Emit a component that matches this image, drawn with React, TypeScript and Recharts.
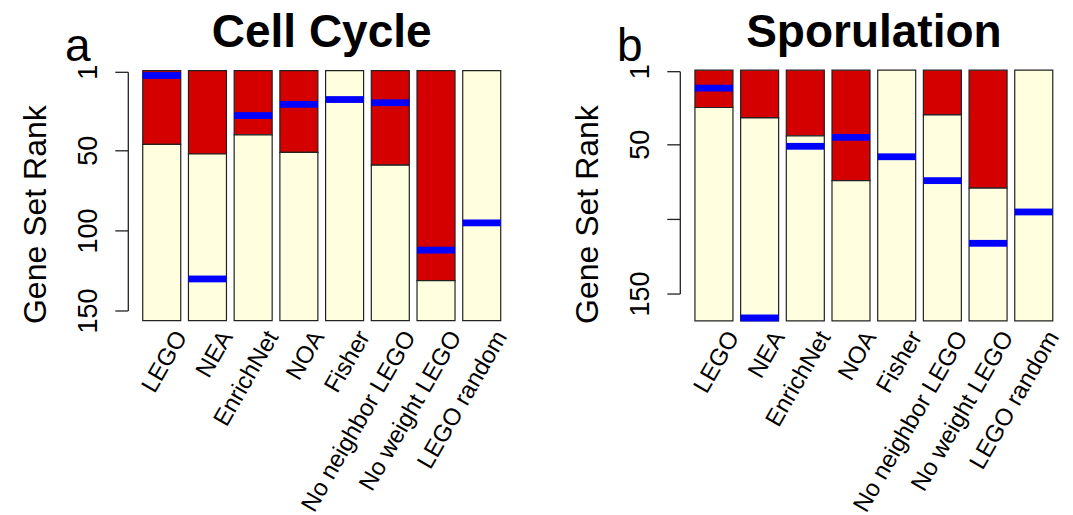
import React from "react";
import { ComposedChart, Bar, Line, XAxis, YAxis } from "recharts";

const methods = [
  "LEGO",
  "NEA",
  "EnrichNet",
  "NOA",
  "Fisher",
  "No neighbor LEGO",
  "No weight LEGO",
  "LEGO random",
];

// rank where the red block ends (0 = no red block)
const cellCycleRedEnd = [46, 52, 40, 51, 0, 59, 131, 0];
const cellCycleBlue = [3, 130, 28, 21, 18, 20, 112, 95];
const cellCycleTotal = 156;

const sporulationRedEnd = [25, 32, 44, 74, 0, 30, 79, 0];
const sporulationBlue = [12, 166, 51, 45, 58, 74, 116, 95];
const sporulationTotal = 168;

const rankTicks = [1, 50, 100, 150];
const cellCycleTickLabels = ["1", "50", "100", "150"];
const sporulationTickLabels = ["1", "50", "", "150"];

const FONT = "'Liberation Sans', Arial, Helvetica, sans-serif";
const RED = "#d40000";
const CREAM = "#ffffe0";
const BLUE = "#0000ff";
const EDGE = "#222";
const CHART_H = 515;
const BAR_W = 38;

type PanelProps = {
  left: number;
  width: number;
  axisX: number;
  padLeft: number;
  plotRight: number;
  plotTop: number;
  plotBottom: number;
  redEnd: number[];
  blue: number[];
  total: number;
  tickLabels: string[];
};

function Panel(p: PanelProps) {
  const data = methods.map((m, i) => ({
    method: m,
    red: p.redEnd[i],
    cream: p.total - p.redEnd[i],
    blue: p.blue[i],
  }));
  const plotH = p.plotBottom - p.plotTop;
  const pxPerRank = plotH / p.total;
  const first = rankTicks[0];
  const last = rankTicks[rankTicks.length - 1];
  const dash = `0 ${first * pxPerRank} ${(last - first) * pxPerRank} 3000`;

  const YTick = (t: any) => {
    const idx = rankTicks.indexOf(t.payload.value);
    return (
      <g transform={`translate(${t.x - 18},${t.y})`}>
        <text
          transform="rotate(-90)"
          textAnchor="middle"
          fontSize={27}
          fontFamily={FONT}
          fill="#000"
        >
          {p.tickLabels[idx]}
        </text>
      </g>
    );
  };

  const XTick = (t: any) => {
    const ax = t.x + 26;
    const ay = t.y + 16;
    return (
      <text
        x={ax}
        y={ay}
        textAnchor="end"
        transform={`rotate(-60, ${ax}, ${ay})`}
        fontSize={24}
        fontFamily={FONT}
        fill="#000"
      >
        {t.payload.value}
      </text>
    );
  };

  const Marker = (d: any) => {
    if (d.cx == null || d.cy == null) return <g key={d.index} />;
    return (
      <rect
        key={d.index}
        x={d.cx - BAR_W / 2}
        y={d.cy - 3.4}
        width={BAR_W}
        height={6.8}
        fill={BLUE}
      />
    );
  };

  const AxisTitle = (l: any) => {
    const vb = l.viewBox;
    const x = vb.x + vb.width - 82;
    const y = vb.y + vb.height / 2 + 19;
    return (
      <text
        transform={`translate(${x},${y}) rotate(-90)`}
        textAnchor="middle"
        fontSize={32}
        fontFamily={FONT}
        fill="#000"
      >
        Gene Set Rank
      </text>
    );
  };

  return (
    <div style={{ position: "absolute", left: p.left, top: 0 }}>
      <ComposedChart
        width={p.width}
        height={CHART_H}
        data={data}
        margin={{
          top: p.plotTop,
          right: p.width - p.plotRight,
          bottom: 0,
          left: 0,
        }}
        barCategoryGap="8.4%"
      >
        <XAxis
          dataKey="method"
          type="category"
          height={CHART_H - p.plotBottom}
          axisLine={false}
          tickLine={false}
          tickSize={0}
          tickMargin={0}
          interval={0}
          padding={{ left: p.padLeft, right: 0 }}
          tick={XTick}
        />
        <YAxis
          type="number"
          width={p.axisX}
          reversed
          domain={[0, p.total]}
          ticks={rankTicks}
          interval={0}
          tickSize={13}
          tickMargin={0}
          axisLine={{ stroke: EDGE, strokeWidth: 1.3, strokeDasharray: dash }}
          tickLine={{ stroke: EDGE, strokeWidth: 1.3 }}
          tick={YTick}
          label={{ content: AxisTitle }}
        />
        <Bar
          dataKey="red"
          stackId="rank"
          fill={RED}
          stroke={EDGE}
          strokeWidth={1.2}
          isAnimationActive={false}
        />
        <Bar
          dataKey="cream"
          stackId="rank"
          fill={CREAM}
          stroke={EDGE}
          strokeWidth={1.2}
          isAnimationActive={false}
        />
        <Line
          dataKey="blue"
          stroke="transparent"
          strokeWidth={0}
          dot={Marker}
          activeDot={false}
          isAnimationActive={false}
        />
      </ComposedChart>
    </div>
  );
}

export default function App() {
  return (
    <div
      style={{
        position: "absolute",
        left: 0,
        top: 0,
        width: 1073,
        height: 515,
        background: "#fff",
        overflow: "hidden",
      }}
    >
      <Panel
        left={0}
        width={540}
        axisX={128.3}
        padLeft={10.6}
        plotRight={504.6}
        plotTop={70.7}
        plotBottom={320.6}
        redEnd={cellCycleRedEnd}
        blue={cellCycleBlue}
        total={cellCycleTotal}
        tickLabels={cellCycleTickLabels}
      />
      <Panel
        left={540}
        width={533}
        axisX={140.3}
        padLeft={10.8}
        plotRight={516.6}
        plotTop={70.2}
        plotBottom={320.9}
        redEnd={sporulationRedEnd}
        blue={sporulationBlue}
        total={sporulationTotal}
        tickLabels={sporulationTickLabels}
      />
      <svg
        width={1073}
        height={515}
        style={{ position: "absolute", left: 0, top: 0, pointerEvents: "none" }}
      >
        <text x={321.7} y={47} textAnchor="middle" fontSize={46} fontWeight="bold" fontFamily={FONT}>
          Cell Cycle
        </text>
        <text x={873.9} y={47} textAnchor="middle" fontSize={46} fontWeight="bold" fontFamily={FONT}>
          Sporulation
        </text>
        <text x={65} y={61} fontSize={46} fontFamily={FONT}>
          a
        </text>
        <text x={617} y={61} fontSize={46} fontFamily={FONT}>
          b
        </text>
      </svg>
    </div>
  );
}
